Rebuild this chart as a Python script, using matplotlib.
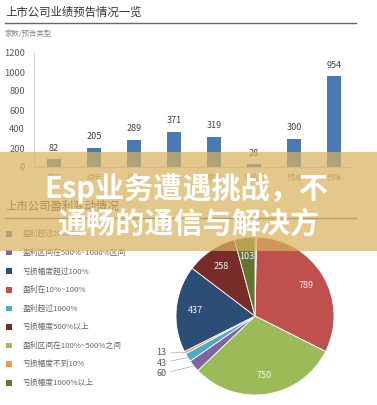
import matplotlib
matplotlib.use("Agg")
import matplotlib.pyplot as plt
from matplotlib.patches import Rectangle
from matplotlib.lines import Line2D
import numpy as np

plt.rcParams['font.family'] = ['Noto Sans CJK SC', 'DejaVu Sans']

# bar chart data
bar_cats = ['首亏', '续亏', '扭亏', '略减', '略增', '不确定', '预减', '预增']
bar_vals = [82, 205, 289, 371, 319, 28, 300, 954]
bar_ticks = [0, 200, 400, 600, 800, 1000, 1200]

# pie chart data (clockwise from 12 o'clock)
pie_names = ['盈利超过2000%', '盈利在10%~100%', '盈利区间在100%~500%之间',
             '盈利区间在500%~1000%区间', '盈利超过1000%', '亏损幅度不到10%',
             '亏损幅度超过100%', '亏损幅度500%以上', '亏损幅度1000%以上']
pie_vals = [9, 789, 750, 60, 43, 13, 437, 258, 103]
pie_colors = ['#4f81bd', '#c0504d', '#9bbb59', '#8064a2', '#4bacc6',
              '#f79646', '#2c4d75', '#772c2a', '#5f7530']

# legend order as shown in the picture
legend_order = [0, 3, 6, 1, 4, 7, 2, 5, 8]

W, H = 377, 405

def fx(px):
    return px / W

def fy(py):
    return 1 - py / H

fig = plt.figure(figsize=(W / 100, H / 100), dpi=100)
fig.patch.set_facecolor('white')

# ---- top section: titles
fig.text(fx(5), fy(12), '上市公司业绩预告情况一览', fontsize=8.2, color='#333333',
         ha='left', va='center')
fig.add_artist(Line2D([fx(5), fx(356)], [fy(23), fy(23)], transform=fig.transFigure,
                      color='#666666', lw=1.0))
fig.text(fx(5), fy(34), '家数/预告类型', fontsize=5.3, color='#888888',
         ha='left', va='center')

# ---- bar chart
ax = fig.add_axes([fx(34), fy(167), fx(352) - fx(34), fy(53) - fy(167)])
x = np.arange(len(bar_vals))
bars = ax.bar(x, bar_vals, width=0.33, color='#4a7ab5')
for xi, v in zip(x, bar_vals):
    ax.text(xi, v + 70, str(v), ha='center', va='bottom', fontsize=6.5, color='#444444')
ax.set_xlim(-0.5, 7.45)
ax.set_ylim(0, 1200)
ax.set_yticks(bar_ticks)
ax.set_yticklabels([str(t) for t in bar_ticks], fontsize=6.7, color='#555555')
ax.set_xticks(x)
ax.set_xticklabels(bar_cats, fontsize=5.5, color='#888888')
ax.tick_params(length=0, pad=6.5)
ax.tick_params(axis='x', pad=5)
for s in ['top', 'right']:
    ax.spines[s].set_visible(False)
ax.spines['left'].set_color('#d5d5d5')
ax.spines['bottom'].set_color('#d5d5d5')
ax.spines['left'].set_linewidth(0.8)
ax.spines['bottom'].set_linewidth(0.8)

# ---- second section titles
fig.text(fx(5), fy(206), '上市公司盈利变动情况', fontsize=8.2, color='#333333',
         ha='left', va='center')
fig.add_artist(Line2D([fx(5), fx(356)], [fy(218), fy(218)], transform=fig.transFigure,
                      color='#666666', lw=1.0))

# legend
for k, idx in enumerate(legend_order):
    yc = 234 + k * 18.6
    fig.add_artist(Rectangle((fx(6), fy(yc + 2.7)), fx(5.5), fy(0) - fy(5.5),
                             transform=fig.transFigure, facecolor=pie_colors[idx],
                             edgecolor='none'))
    fig.text(fx(23), fy(yc), pie_names[idx], fontsize=5.6, color='#666666',
             ha='left', va='center')

# ---- pie chart
r = 79
pax = fig.add_axes([fx(255 - r), fy(316 + r), fx(2 * r), fy(0) - fy(2 * r)])
wedges, _ = pax.pie(pie_vals, colors=pie_colors, startangle=90, counterclock=False,
                    wedgeprops=dict(edgecolor='white', linewidth=0.6))
pax.set_xlim(-1, 1)
pax.set_ylim(-1, 1)

small_y = {5: -0.468, 4: -0.595, 3: -0.734}
for i, (w, v) in enumerate(zip(wedges, pie_vals)):
    mid = np.deg2rad((w.theta1 + w.theta2) / 2)
    if v >= 100:
        pax.text(0.76 * np.cos(mid), 0.76 * np.sin(mid), str(v), ha='center', va='center',
                 fontsize=6.5, color='#f4f4f4')
    elif i in small_y:
        pax.annotate(str(v), xy=(np.cos(mid), np.sin(mid)), xytext=(-1.12, small_y[i]),
                     ha='right', va='center', fontsize=6.5, color='#555555',
                     annotation_clip=False,
                     arrowprops=dict(arrowstyle='-', color='#aaaaaa', lw=0.5,
                                     shrinkA=1, shrinkB=0))

# ---- banner overlay
fig.add_artist(Rectangle((0, fy(251)), 1, fy(152) - fy(251), transform=fig.transFigure,
                         facecolor='#d9b25f', alpha=0.72, edgecolor='none', zorder=10))
fig.text(fx(186), fy(188), 'Esp业务遭遇挑战，不', fontsize=21, fontweight='bold',
         color='white', ha='center', va='center', zorder=11)
fig.text(fx(188), fy(224), '通畅的通信与解决方', fontsize=21, fontweight='bold',
         color='white', ha='center', va='center', zorder=11)

fig.savefig('out.png', dpi=100)
